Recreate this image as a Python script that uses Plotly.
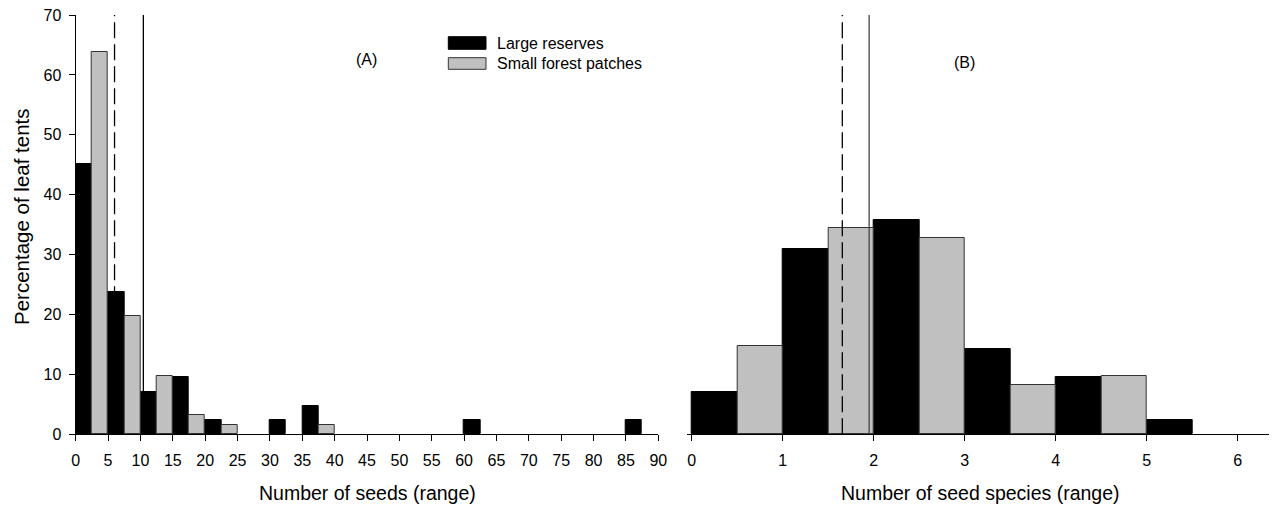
import plotly.graph_objects as go

W, H = 1277, 510

# ---- data -----------------------------------------------------------------
# (A) seeds per leaf tent, 5-seed bins (lower edge), percentage of tents
seed_bins = [0, 5, 10, 15, 20, 25, 30, 35, 40, 45, 50, 55, 60, 65, 70, 75, 80, 85]
seeds_large = [45.2, 23.8, 7.1, 9.5, 2.4, 0, 2.4, 4.8, 0, 0, 0, 0, 2.4, 0, 0, 0, 0, 2.4]
seeds_small = [63.9, 19.7, 9.8, 3.3, 1.6, 0, 0, 1.6, 0, 0, 0, 0, 0, 0, 0, 0, 0, 0]
seeds_mean_small = 6.0
seeds_mean_large = 10.45

# (B) seed species per leaf tent, 1-species bins (lower edge)
species_bins = [0, 1, 2, 3, 4, 5]
species_large = [7.1, 31.0, 35.7, 14.3, 9.5, 2.4]
species_small = [14.8, 34.4, 32.8, 8.2, 9.8, 0]
species_mean_small = 1.655
species_mean_large = 1.95

seed_ticks = list(range(0, 91, 5))
species_ticks = [0, 1, 2, 3, 4, 5, 6]
pct_ticks = [0, 10, 20, 30, 40, 50, 60, 70]

series_names = ["Large reserves", "Small forest patches"]
BLACK = "#000000"
GREY = "#c0c0c0"
GREY_EDGE = "#333333"
FONT = "Liberation Sans"


def px_x(v):
    return v / W


def px_y(v):
    return 1 - v / H


def nonzero(bins, vals):
    """Keep only occupied bins so empty ones leave no outline on the axis."""
    pairs = [(b, v) for b, v in zip(bins, vals) if v > 0]
    return [p[0] for p in pairs], [p[1] for p in pairs]


fig = go.Figure()

# panel A bars: each 5-seed bin split into two half-width bars
bx, by = nonzero(seed_bins, seeds_large)
fig.add_trace(go.Bar(x=bx, y=by, width=2.5, offset=0,
                     marker=dict(color=BLACK, line=dict(color=BLACK, width=1)),
                     name=series_names[0], xaxis="x", yaxis="y"))
bx, by = nonzero(seed_bins, seeds_small)
fig.add_trace(go.Bar(x=bx, y=by, width=2.5, offset=2.5,
                     marker=dict(color=GREY, line=dict(color=GREY_EDGE, width=1)),
                     name=series_names[1], xaxis="x", yaxis="y"))

# panel B bars
bx, by = nonzero(species_bins, species_large)
fig.add_trace(go.Bar(x=bx, y=by, width=0.5, offset=0,
                     marker=dict(color=BLACK, line=dict(color=BLACK, width=1)),
                     name=series_names[0], xaxis="x2", yaxis="y2"))
bx, by = nonzero(species_bins, species_small)
fig.add_trace(go.Bar(x=bx, y=by, width=0.5, offset=0.5,
                     marker=dict(color=GREY, line=dict(color=GREY_EDGE, width=1)),
                     name=series_names[1], xaxis="x2", yaxis="y2"))

# mean lines
shapes = []
for xr, yr, xv, dash, col in [("x", "y", seeds_mean_small, "16px,6px", BLACK),
                              ("x", "y", seeds_mean_large, "solid", BLACK),
                              ("x2", "y2", species_mean_small, "16px,6px", BLACK),
                              ("x2", "y2", species_mean_large, "solid", "#444444")]:
    shapes.append(dict(type="line", xref=xr, yref=yr, x0=xv, x1=xv, y0=0, y1=70,
                       line=dict(color=col, width=1.3, dash=dash), layer="above"))

# legend keys
lx0, lx1 = 448.3, 486
for (y0, y1), col, lc in [((36.7, 49.3), BLACK, BLACK), ((57.7, 69.3), GREY, GREY_EDGE)]:
    shapes.append(dict(type="rect", xref="paper", yref="paper",
                       x0=px_x(lx0), x1=px_x(lx1), y0=px_y(y1), y1=px_y(y0),
                       fillcolor=col, line=dict(color=lc, width=1)))

annotations = []
for txt, yc in [(series_names[0], 43.3), (series_names[1], 63.3)]:
    annotations.append(dict(text=txt, xref="paper", yref="paper", x=px_x(495), y=px_y(yc),
                            xanchor="left", yanchor="middle", showarrow=False,
                            font=dict(size=16, color=BLACK, family=FONT)))

annotations += [
    dict(text="(A)", xref="paper", yref="paper", x=px_x(366.7), y=px_y(59),
         xanchor="center", yanchor="middle", showarrow=False,
         font=dict(size=16, color=BLACK, family=FONT)),
    dict(text="(B)", xref="paper", yref="paper", x=px_x(964), y=px_y(62),
         xanchor="center", yanchor="middle", showarrow=False,
         font=dict(size=16, color=BLACK, family=FONT)),
    dict(text="Number of seeds (range)", xref="paper", yref="paper",
         x=px_x(367), y=px_y(493), xanchor="center", yanchor="middle", showarrow=False,
         font=dict(size=19.5, color=BLACK, family=FONT)),
    dict(text="Number of seed species (range)", xref="paper", yref="paper",
         x=px_x(980), y=px_y(493), xanchor="center", yanchor="middle", showarrow=False,
         font=dict(size=19.5, color=BLACK, family=FONT)),
    dict(text="Percentage of leaf tents", xref="paper", yref="paper",
         x=px_x(21), y=px_y(217), xanchor="center", yanchor="middle", showarrow=False,
         textangle=-90, font=dict(size=20.5, color=BLACK, family=FONT)),
]

axis_common = dict(showgrid=False, zeroline=False, showline=True, linecolor=BLACK,
                   linewidth=1.3, ticks="outside", ticklen=6, tickwidth=1.2,
                   tickcolor=BLACK, automargin=False,
                   tickfont=dict(size=16, color=BLACK, family=FONT))

y_dom = [px_y(434.3), px_y(15)]

fig.update_layout(
    width=W, height=H,
    margin=dict(l=0, r=0, t=0, b=0, pad=0, autoexpand=False),
    paper_bgcolor="white", plot_bgcolor="white",
    font=dict(family=FONT, color=BLACK),
    showlegend=False, barmode="overlay", bargap=0,
    xaxis=dict(domain=[px_x(75.7), px_x(658.3)], range=[0, 90], tickvals=seed_ticks,
               anchor="y", ticklabelstandoff=5, **axis_common),
    yaxis=dict(domain=y_dom, range=[0, 70], tickvals=pct_ticks, anchor="x",
               ticklabelstandoff=4, **axis_common),
    xaxis2=dict(domain=[px_x(686.7), px_x(1269)], range=[-0.055, 6.344],
                tickvals=species_ticks, anchor="y2", ticklabelstandoff=5, **axis_common),
    yaxis2=dict(domain=y_dom, range=[0, 70], anchor="x2", showgrid=False,
                zeroline=False, showline=False, showticklabels=False, ticks="",
                automargin=False),
    shapes=shapes,
    annotations=annotations,
)

fig.write_html("out.html")
